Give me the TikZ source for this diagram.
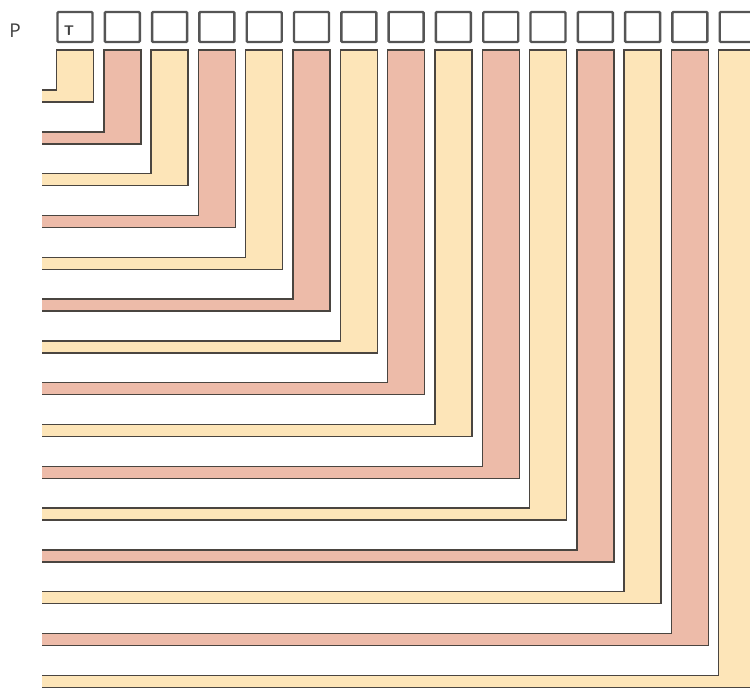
\documentclass[tikz,border=0pt]{standalone}
\usepackage{fontspec}
\setmainfont{Open Sans}
\definecolor{barY}{HTML}{FDE5B8}
\definecolor{barP}{HTML}{EDBBA9}
\definecolor{edge}{HTML}{4A4540}
\definecolor{boxedge}{HTML}{555555}
\tikzset{
  lbar/.style={line width=1.4pt, draw=edge, line join=miter},
  topbox/.style={draw=boxedge, line width=2.4pt, fill=white, rounded corners=1pt, minimum width=35pt, minimum height=30pt, inner sep=0pt},
}
\begin{document}
\begin{tikzpicture}[x=1pt,y=-1pt]
\useasboundingbox (0,0) rectangle (750,688);
\clip (0,0) rectangle (750,688);
\fill[white] (0,0) rectangle (750,688);
\node[font=\fontsize{19}{19}\selectfont, text=black!75] (P) at (15,31) {P};
\foreach \i in {0,...,14} {
  \pgfmathsetmacro{\xl}{56.5+47.3*\i}
  \pgfmathsetmacro{\xr}{\xl+37}
  \pgfmathsetmacro{\yb}{102+41.8*\i}
  \pgfmathsetmacro{\yt}{\yb-12}
  \pgfmathtruncatemacro{\odd}{mod(\i,2)}
  \ifnum\odd=0 \def\col{barY}\else\def\col{barP}\fi
  \fill[\col] (\xl,50) -- (\xr,50) -- (\xr,\yb) -- (42,\yb) -- (42,\yt) -- (\xl,\yt) -- cycle;
  \draw[lbar] (42,\yt) -- (\xl,\yt) -- (\xl,50) -- (\xr,50) -- (\xr,\yb) -- (42,\yb);
  \node[topbox] (b\i) at ({\xl+18.5},27) {};
}
\node[font=\sffamily\bfseries\fontsize{14}{14}\selectfont, text=black!75] (T) at (69,31) {T};
\end{tikzpicture}
\end{document}
